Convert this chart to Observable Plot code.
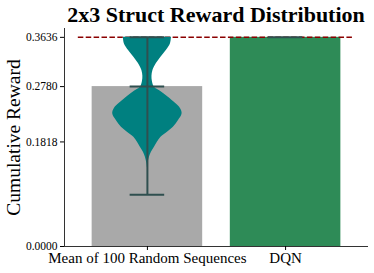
<!DOCTYPE html>
<html><head><meta charset="utf-8">
<script src="https://cdn.jsdelivr.net/npm/d3@7"></script>
<script src="https://cdn.jsdelivr.net/npm/@observablehq/plot@0.6"></script>
<style>
body{margin:0;background:#fff;}
#title{margin-left:64px;width:304px;height:26px;line-height:30px;text-align:center;font-family:"Liberation Serif",serif;font-weight:bold;font-size:22px;color:#000;white-space:nowrap;}
#chart svg{display:block;}
</style>
</head><body>
<div id="title">2x3 Struct Reward Distribution</div>
<div id="chart"></div>
<script>
const categories = ["Mean of 100 Random Sequences", "DQN"];
const means = [0.278, 0.3636];
const barColors = ["#a9a9a9", "#2e8b57"];
const yTicks = [0, 0.1818, 0.2780, 0.3636];
const bestReward = 0.3636;
const randomMin = 0.0899;
const randomMax = 0.3636;
const randomMean = 0.278;
// violin profile of the random sequences (reward value, half width in category units)
const violinValues =     [0.3636, 0.3525, 0.341, 0.329, 0.318, 0.306, 0.296, 0.287, 0.277, 0.270, 0.260, 0.249, 0.240, 0.2308, 0.219, 0.2075, 0.1988, 0.190, 0.1814, 0.1727, 0.164, 0.1553, 0.1443, 0.136];
const violinHalfWidths = [0.174,  0.167,  0.138, 0.098, 0.065, 0.040, 0.033, 0.036, 0.051, 0.094, 0.149, 0.203, 0.239, 0.251,  0.225, 0.188,  0.145,  0.098, 0.072,  0.051,  0.029, 0.0145, 0.004, 0];

const bars = categories.map((c, i) => ({i, c, v: means[i], color: barColors[i]}));
const violin = violinValues.map((v, k) => ({v, hw: violinHalfWidths[k]}));
const lineColor = "#2f4f4f";
const capHalf = 0.125;
const serif = "'Liberation Serif', serif";

const chart = Plot.plot({
  width: 374,
  height: 247,
  marginTop: 2,
  marginBottom: 27,
  marginLeft: 64,
  marginRight: 6,
  style: {fontFamily: serif, background: "#fff", color: "#000"},
  x: {domain: [-0.6, 1.6], label: null},
  y: {domain: [0, 0.379], label: null},
  marks: [
    Plot.rect(bars, {x1: d => d.i - 0.4, x2: d => d.i + 0.4, y1: 0, y2: "v", fill: "color"}),
    Plot.ruleY([bestReward], {x1: -0.5, x2: 1.5, stroke: "#8b0000", strokeWidth: 1.5, strokeDasharray: "5.5,2.4"}),
    Plot.areaX(violin, {y: "v", x1: d => 0 - d.hw, x2: d => 0 + d.hw, fill: "#008080", curve: "catmull-rom"}),
    Plot.ruleX([0], {y1: randomMin, y2: randomMax, stroke: lineColor, strokeWidth: 2}),
    Plot.ruleY([randomMin, randomMean, randomMax], {x1: -capHalf, x2: capHalf, stroke: lineColor, strokeWidth: 2}),
    Plot.ruleY([means[1]], {x1: 1 - capHalf, x2: 1 + capHalf, stroke: lineColor, strokeWidth: 2}),
    Plot.ruleX([-0.6], {stroke: "#333", strokeWidth: 1}),
    Plot.ruleY([0], {stroke: "#333", strokeWidth: 1}),
    Plot.axisY({ticks: yTicks, tickFormat: d3.format(".4f"), tickSize: 4, tickPadding: 3, fontSize: 11.5, fontFamily: serif, label: null}),
    Plot.axisX({ticks: [0, 1], tickFormat: i => categories[i], tickSize: 4, tickPadding: 2, fontSize: 15, fontFamily: serif, label: null}),
    Plot.text(["Cumulative Reward"], {frameAnchor: "left", dx: -51, rotate: -90, textAnchor: "middle", fontSize: 19.5, fontFamily: serif, fill: "#000"})
  ]
});
document.getElementById("chart").appendChild(chart);
</script>
</body></html>
